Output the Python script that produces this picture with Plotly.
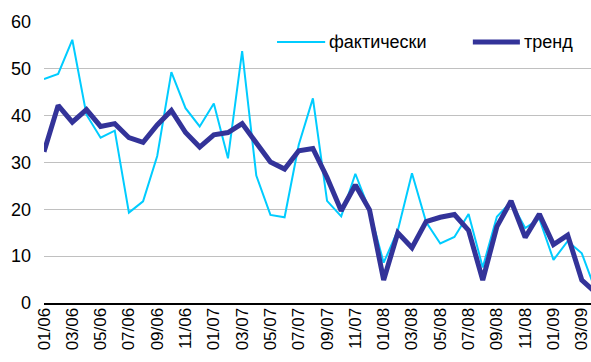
import plotly.graph_objects as go

# monthly labels 01/06 .. 04/09
months = [f"{m:02d}/{y:02d}" for y in (6, 7, 8, 9) for m in range(1, 13)][:40]
tick_labels = months[::2]

fact = [47.8, 48.9, 56.2, 40.2, 35.3, 36.8, 19.3, 21.7, 31.4, 49.3,
        41.6, 37.7, 42.6, 30.9, 53.8, 27.2, 18.8, 18.3, 33.8, 43.7,
        21.8, 18.5, 27.6, 19.8, 8.6, 15.5, 27.7, 17.3, 12.7, 14.1,
        19.0, 7.6, 18.4, 21.6, 16.0, 18.0, 9.2, 13.2, 10.6, 2.5]

trend = [32.3, 42.2, 38.6, 41.3, 37.7, 38.3, 35.3, 34.3, 38.0, 41.1,
         36.4, 33.3, 35.9, 36.4, 38.3, 34.1, 30.1, 28.6, 32.5, 33.0,
         26.8, 19.7, 25.2, 19.9, 4.9, 15.0, 11.8, 17.4, 18.3, 18.9,
         15.5, 4.9, 16.3, 21.8, 14.0, 19.0, 12.5, 14.5, 4.9, 2.2]

series = [("фактически", fact, "#00CCFF", 2), ("тренд", trend, "#333399", 5)]

fig = go.Figure()
for name, vals, color, width in series:
    fig.add_trace(go.Scatter(
        x=months, y=vals, name=name, mode="lines",
        line=dict(color=color, width=width)
    ))

# legend drawn by hand so the line samples match the original length
legend_pos = [(0.426, 0.514), (0.784, 0.870)]
for (name, _, color, width), (x0, x1) in zip(series, legend_pos):
    fig.add_shape(type="line", xref="paper", yref="paper",
                  x0=x0, x1=x1, y0=0.929, y1=0.929,
                  line=dict(color=color, width=width))
    fig.add_annotation(text=name, xref="paper", yref="paper",
                       x=x1 + 0.004, y=0.929, xanchor="left", yanchor="middle",
                       showarrow=False, font=dict(size=18))

fig.update_layout(
    width=591, height=362,
    margin=dict(l=44, r=0, t=22, b=59),
    paper_bgcolor="white", plot_bgcolor="white",
    font=dict(family="Liberation Sans, Arial, sans-serif", size=17, color="#000000"),
    showlegend=False,
    xaxis=dict(
        type="category", range=[0, 38.65], automargin=False,
        tickvals=tick_labels, ticktext=tick_labels, tickangle=-90,
        showgrid=False, showline=True, linecolor="#000000", linewidth=2,
        ticks="", zeroline=False, ticklabelstandoff=-4,
    ),
    yaxis=dict(
        range=[0, 60], dtick=10, showgrid=True, gridcolor="#C0C0C0", gridwidth=1,
        showline=False, zeroline=False, ticks="", ticklabelstandoff=12,
        automargin=False, tickfont=dict(size=18),
    ),
)

# page body has a default 8px margin; drop it so the figure fills the window
fig.write_html("out.html", config={"displayModeBar": False},
               post_script="document.body.style.margin='0';")
